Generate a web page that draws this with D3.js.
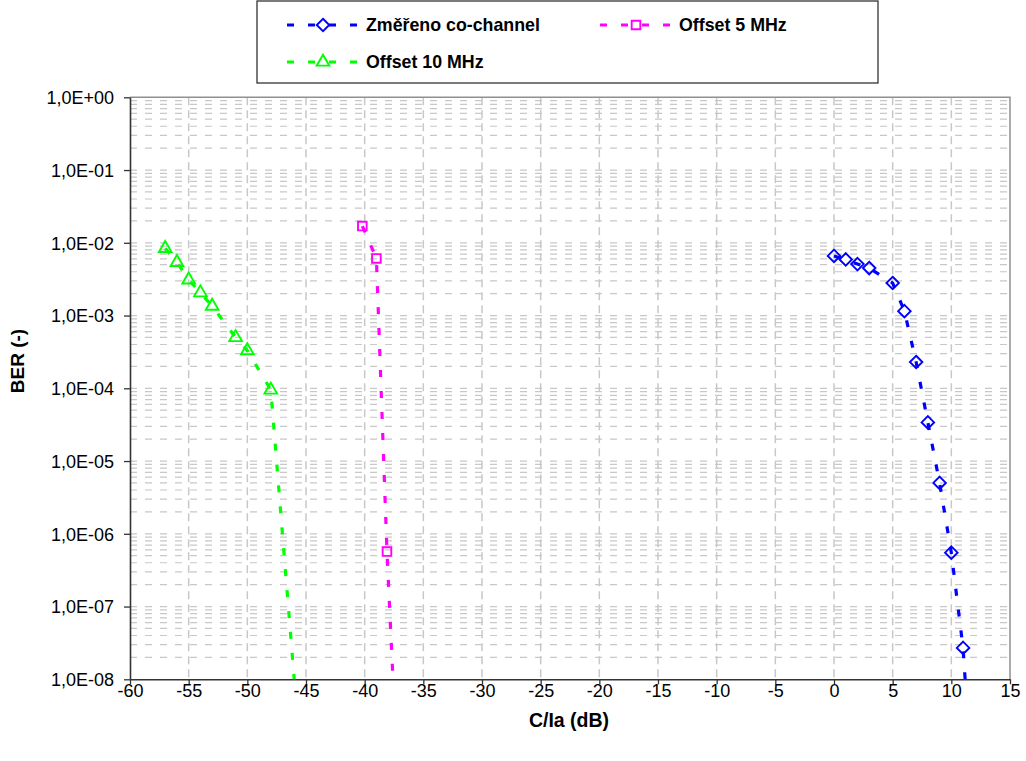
<!DOCTYPE html>
<html><head><meta charset="utf-8">
<script src="https://cdn.jsdelivr.net/npm/d3@7"></script>
<style>body{margin:0;background:#fff}svg{display:block}text{font-family:Arial,"Liberation Sans",sans-serif}</style>
</head><body><svg id="c" width="1026" height="761"></svg>
<script>
// ---- data ----
const seriesNames = ["Změřeno co-channel", "Offset 5 MHz", "Offset 10 MHz"];
const coChannelX = [0, 1, 2, 3, 5, 6, 7, 8, 9, 10, 11, 12];
const coChannelBER = [6.6e-3, 5.9e-3, 5.1e-3, 4.5e-3, 2.8e-3, 1.15e-3, 2.3e-4, 3.4e-5, 5.0e-6, 5.5e-7, 2.7e-8, 1e-10];
const offset5X = [-40.2, -39, -38.1, -37];
const offset5BER = [1.7e-2, 6.1e-3, 5.7e-7, 1e-10];
const offset10X = [-57, -56, -55, -54, -53, -51, -50, -48, -45];
const offset10BER = [8.4e-3, 5.4e-3, 3.1e-3, 2.06e-3, 1.35e-3, 5.0e-4, 3.3e-4, 9.5e-5, 1e-10];
const xTicks = [-60, -55, -50, -45, -40, -35, -30, -25, -20, -15, -10, -5, 0, 5, 10, 15];
const yTicks = [1, 1e-1, 1e-2, 1e-3, 1e-4, 1e-5, 1e-6, 1e-7, 1e-8];
const yTickLabels = ["1,0E+00", "1,0E-01", "1,0E-02", "1,0E-03", "1,0E-04", "1,0E-05", "1,0E-06", "1,0E-07", "1,0E-08"];
const xTitle = "C/Ia (dB)";
const yTitle = "BER (-)";

const colors = ["#0000ff", "#ff00ff", "#00ff00"];
const L = 130, R = 1010, T = 97.3, B = 679.3;
const svg = d3.select("#c");
const x = d3.scaleLinear().domain([-60, 15]).range([L, R]);
const y = d3.scaleLog().domain([1e-8, 1]).range([B, T]);

// gridlines
const minor = [];
for (let e = -8; e < 0; e++) for (let m = 1; m <= 9; m++) minor.push(m * Math.pow(10, e));
svg.append("g").selectAll("line").data(minor.filter(v => v > 1e-8)).join("line")
  .attr("x1", L).attr("x2", R).attr("y1", d => y(d)).attr("y2", d => y(d))
  .attr("stroke", "#c8c8c8").attr("stroke-width", 1.2).attr("stroke-dasharray", "7 8");
svg.append("g").selectAll("line").data(xTicks.slice(1, -1)).join("line")
  .attr("x1", d => x(d)).attr("x2", d => x(d)).attr("y1", T).attr("y2", B)
  .attr("stroke", "#c8c8c8").attr("stroke-width", 1.5).attr("stroke-dasharray", "8 5");

// plot border (top/right)
svg.append("path").attr("d", `M${L},${T}H${R}V${B}`).attr("fill", "none").attr("stroke", "#909090").attr("stroke-width", 1.5);

// axes
const xAxis = svg.append("g").attr("transform", `translate(0,${B})`)
  .call(d3.axisBottom(x).tickValues(xTicks).tickFormat(d => String(d)).tickSize(5).tickSizeOuter(0));
const yAxis = svg.append("g").attr("transform", `translate(${L},0)`)
  .call(d3.axisLeft(y).tickValues(yTicks).tickFormat((d, i) => yTickLabels[i]).tickSize(6).tickSizeOuter(0));
[xAxis, yAxis].forEach(g => {
  g.select(".domain").attr("stroke", "#333").attr("stroke-width", 1.6);
  g.selectAll(".tick line").attr("stroke", "#333").attr("stroke-width", 1.3);
  g.selectAll("text").attr("fill", "#000").style("font-size", "18px").style("font-family", "Arial, 'Liberation Sans', sans-serif");
});
xAxis.selectAll("text").attr("dy", "0").attr("y", 17.5);
yAxis.selectAll("text").attr("x", -16).attr("dy", "0.35em");

// titles
svg.append("text").attr("x", 569).attr("y", 727).attr("text-anchor", "middle")
  .style("font-size", "19.5px").style("font-weight", "bold").text(xTitle);
svg.append("text").attr("transform", "translate(24,361) rotate(-90)").attr("text-anchor", "middle")
  .style("font-size", "19px").style("font-weight", "bold").text(yTitle);

// clip
svg.append("clipPath").attr("id", "clip").append("rect").attr("x", L).attr("y", T - 20).attr("width", R - L).attr("height", B - T + 20);

const series = [
  {xs: coChannelX, ys: coChannelBER, sym: d3.symbolDiamond2, size: 100},
  {xs: offset5X, ys: offset5BER, sym: d3.symbolSquare2, size: 95},
  {xs: offset10X, ys: offset10BER, sym: d3.symbolTriangle2, size: 115}
];
const line = d3.line().x(d => x(d[0])).y(d => y(d[1]));
const plot = svg.append("g").attr("clip-path", "url(#clip)");
series.forEach((s, i) => {
  const pts = s.xs.map((v, k) => [v, s.ys[k]]);
  plot.append("path").datum(pts).attr("d", line).attr("fill", "none")
    .attr("stroke", colors[i]).attr("stroke-width", 3.2).attr("stroke-dasharray", "7 14");
});
series.forEach((s, i) => {
  const pts = s.xs.map((v, k) => [v, s.ys[k]]).filter(p => p[1] >= 1e-8);
  plot.append("g").selectAll("path").data(pts).join("path")
    .attr("transform", d => `translate(${x(d[0])},${y(d[1])})`)
    .attr("d", d3.symbol(s.sym, s.size)).attr("fill", "none")
    .attr("stroke", colors[i]).attr("stroke-width", 1.9);
});

// legend
const lg = svg.append("g");
lg.append("rect").attr("x", 257).attr("y", 1).attr("width", 621).attr("height", 82)
  .attr("fill", "#fff").attr("stroke", "#222").attr("stroke-width", 1.2);
const legendPos = [[285, 25], [598, 25], [285, 62]];
seriesNames.forEach((name, i) => {
  const [lx, ly] = legendPos[i];
  const g = lg.append("g").attr("transform", `translate(${lx},${ly})`);
  g.append("line").attr("x1", 2).attr("x2", 80).attr("y1", 0).attr("y2", 0)
    .attr("stroke", colors[i]).attr("stroke-width", 3.2).attr("stroke-dasharray", "7 14");
  g.append("path").attr("transform", "translate(38,0)").attr("d", d3.symbol(series[i].sym, series[i].size))
    .attr("fill", "none").attr("stroke", colors[i]).attr("stroke-width", 1.9);
  g.append("text").attr("x", 81).attr("y", 0).attr("dy", "0.35em")
    .style("font-size", "17.8px").style("font-weight", "bold").text(name);
});
</script></body></html>
